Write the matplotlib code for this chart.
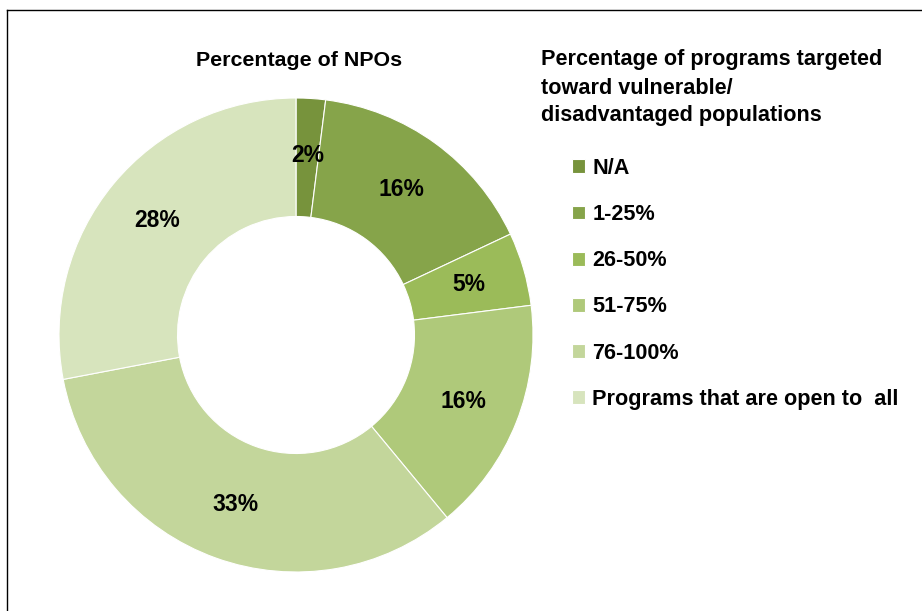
import matplotlib.pyplot as plt
from matplotlib.lines import Line2D

# data
categories = ["N/A", "1-25%", "26-50%", "51-75%", "76-100%", "Programs that are open to  all"]
shares = [2, 16, 5, 16, 33, 28]
colors = ["#77933C", "#86A44A", "#9BBB59", "#AFC97A", "#C3D69B", "#D7E4BD"]
legend_title = ["Percentage of programs targeted", "toward vulnerable/", "disadvantaged populations"]

plt.rcParams['font.family'] = ['Liberation Sans', 'DejaVu Sans']

W, H = 922, 611
fig = plt.figure(figsize=(W / 100, H / 100), dpi=100)

# donut axes, centre at (296, 335) px, radius 237 px
cx, cy, half = 296, 335, 240
ax = fig.add_axes([(cx - half) / W, (H - cy - half) / H, 2 * half / W, 2 * half / H])
wedges, texts, autotexts = ax.pie(
    shares, colors=colors, startangle=90, counterclock=False,
    radius=1, wedgeprops=dict(width=0.5, edgecolor='white', linewidth=0.8),
    autopct='%d%%', pctdistance=0.76,
    textprops=dict(fontsize=16.5, fontweight='bold', color='black'))
lim = half / 237
ax.set_xlim(-lim, lim)
ax.set_ylim(-lim, lim)
ax.set_aspect('equal')
ax.axis('off')

fig.text(299 / W, 1 - 60 / H, "Percentage of NPOs", ha='center', va='center',
         fontsize=15.4, fontweight='bold')
for i, line in enumerate(legend_title):
    fig.text(541 / W, 1 - (60 + 28 * i) / H, line, ha='left', va='center',
             fontsize=15.6, fontweight='bold')

fig.legend(wedges, categories, loc='upper left',
           bbox_to_anchor=(572 / W, 1 - 158 / H), frameon=False,
           prop=dict(size=15.6, weight='bold'), handlelength=0.6, handleheight=0.6,
           handletextpad=0.33, labelspacing=1.16, borderpad=0, borderaxespad=0)

# outer frame (top and left edges visible)
fig.add_artist(Line2D([7 / W, 1], [1 - 10 / H, 1 - 10 / H], color='black', lw=1))
fig.add_artist(Line2D([7 / W, 7 / W], [0, 1 - 10 / H], color='black', lw=1))

fig.savefig("out.png", dpi=100)
